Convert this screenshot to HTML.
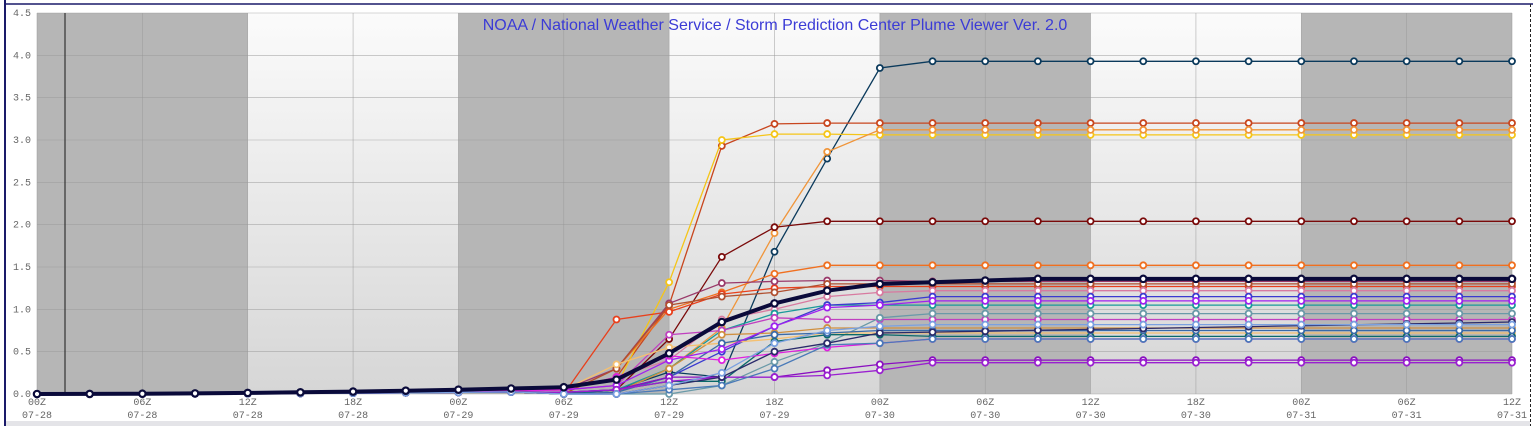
<!DOCTYPE html>
<html><head><meta charset="utf-8">
<style>
html,body{margin:0;padding:0;background:#fff;}
body{width:1533px;height:426px;overflow:hidden;position:relative;}
svg{position:absolute;left:0;top:0;}
</style></head>
<body>
<svg id="s" width="1533" height="426" xmlns="http://www.w3.org/2000/svg">
<defs>
<linearGradient id="lg" x1="0" y1="0" x2="0" y2="1">
<stop offset="0" stop-color="#fbfbfb"/><stop offset="1" stop-color="#d6d6d6"/>
</linearGradient>
</defs>
<rect x="0" y="0" width="1533" height="426" fill="#fff"/>
<line x1="5" y1="0" x2="5" y2="426" stroke="#1a1a6a" stroke-width="2"/>
<line x1="5" y1="4" x2="1533" y2="4" stroke="#1a1a6a" stroke-width="1.5"/>
<line x1="1530.5" y1="4" x2="1530.5" y2="426" stroke="#222" stroke-width="1" stroke-dasharray="3,2"/>
<rect x="6" y="421" width="1524" height="5" fill="#e4e4e8"/>
<g id="bg"></g>
<g id="grid"></g>
<g id="lines"></g>
<g id="lab" font-family="'Liberation Mono',monospace" font-size="10" fill="#666"></g>
<text x="775" y="30" text-anchor="middle" font-family="'Liberation Sans',sans-serif" font-size="16" fill="#3b3bd6">NOAA / National Weather Service / Storm Prediction Center Plume Viewer Ver. 2.0</text>
</svg>
<script>
var NS="http://www.w3.org/2000/svg";
function el(p,t,a){var e=document.createElementNS(NS,t);for(var k in a)e.setAttribute(k,a[k]);p.appendChild(e);return e;}
var X0=37,X1=1512,Y0=394,Y1=13;
function X(i){return X0+(X1-X0)*i/28;}
function Y(v){return Y0-(Y0-Y1)*v/4.5;}
var bg=document.getElementById('bg'),gr=document.getElementById('grid'),lab=document.getElementById('lab'),L=document.getElementById('lines');
for(var b=0;b<7;b++){var xa=X(b*4),xb=X(b*4+4);
 el(bg,'rect',{x:xa,y:Y1,width:xb-xa,height:Y0-Y1,fill:b%2==0?'#b6b6b6':'url(#lg)'});}
for(var k=0;k<=9;k++){var y=Y(k*0.5);el(gr,'line',{x1:X0,x2:X1,y1:y,y2:y,stroke:'#9a9a9a','stroke-width':0.6,opacity:0.8});
 var t=el(lab,'text',{x:31,y:y+3,'text-anchor':'end'});t.textContent=(k*0.5).toFixed(1);}
var hrs=['00Z','06Z','12Z','18Z'],days=['07-28','07-29','07-30','07-31'];
for(var j=0;j<=14;j++){var x=X0+(X1-X0)*j/14;el(gr,'line',{x1:x,x2:x,y1:Y1,y2:Y0,stroke:'#999','stroke-width':0.6,opacity:0.8});
 var t1=el(lab,'text',{x:x,y:405,'text-anchor':'middle'});t1.textContent=hrs[j%4];
 var t2=el(lab,'text',{x:x,y:418,'text-anchor':'middle'});t2.textContent=days[Math.floor(j/4)];}
el(gr,'line',{x1:65,x2:65,y1:Y1,y2:Y0,stroke:'#333','stroke-width':1.2});
var S=[
['#0b3a5c',[0.02,0.05,0.26,0.2,1.68,2.78,3.85],3.93],
['#c8461e',[0.05,0.2,1.05,2.93,3.19,3.2,3.2],3.2],
['#f5c518',[0.05,0.1,1.32,3.0,3.07,3.07,3.06],3.06],
['#f0953a',[0,0.02,0.3,0.78,1.9,2.86,3.12],3.12],
['#7a0a0a',[0,0.05,0.65,1.62,1.97,2.04,2.04],2.04],
['#f07020',[0,0.3,1.0,1.2,1.42,1.52,1.52],1.52],
['#e8401c',[0,0.88,0.97,1.18,1.25,1.27,1.27],1.27],
['#9a3a6a',[0.05,0.3,1.07,1.31,1.33,1.34,1.34],1.33],
['#b05030',[0,0.3,1.05,1.15,1.2,1.3,1.3],1.3],
['#d87aa0',[0.05,0.2,0.4,0.88,1.0,1.15,1.2],1.22],
['#1a9a9a',[0,0.05,0.3,0.75,0.95,1.05,1.05],1.05],
['#3a3ad0',[0,0.05,0.2,0.5,0.8,1.05,1.08],1.15],
['#c040c0',[0.05,0.1,0.7,0.75,0.9,0.88,0.88],0.88],
['#6a9aa8',[0,0,0.0,0.1,0.38,0.6,0.9],0.95],
['#d09040',[0,0.02,0.3,0.7,0.72,0.78,0.78],0.78],
['#f5c070',[0.05,0.35,0.55,0.6,0.65,0.72,0.72],0.72],
['#0a6a6a',[0,0.05,0.15,0.15,0.62,0.7,0.7],0.68],
['#3a6aa8',[0,0.02,0.2,0.6,0.7,0.72,0.75],0.75],
['#a020f0',[0.05,0.1,0.4,0.53,0.8,1.02,1.05],1.1],
['#e020e0',[0.05,0.2,0.45,0.4,0.48,0.55,0.6],0.65],
['#8a10c0',[0.02,0.05,0.2,0.2,0.2,0.28,0.35],0.4],
['#9a20d0',[0.02,0.05,0.15,0.2,0.2,0.22,0.28],0.37],
['#4a7ab8',[0,0,0.05,0.1,0.3,0.58,0.6],0.65],
['#2a2a6a',[0,0,0.1,0.2,0.5,0.6,0.72],0.85,1],
['#7aa0e0',[0,0,0.1,0.25,0.6,0.75,0.8],0.82],
['#0a0a3a',[0.08,0.17,0.48,0.85,1.07,1.22,1.3],1.36,2]
];
S.forEach(function(s){var a=s[1],f=s[2],v=[];
 for(var i=0;i<=28;i++){var val;
  if(i<10){val=Math.max(a[0],0.03)*Math.pow(i/10,2);}
  else if(i<=16){val=a[i-10];}
  else{ if(s[3]==1){val=a[6]+(f-a[6])*(i-16)/12;} else if(s[3]==2){val=a[6]+(f-a[6])*Math.min(1,0.6*(i-16)/2+0.4*(i-16)/12);} else {val=a[6]+(f-a[6])*Math.min(1,(i-16));} }
  v.push(val);}
 var mean=s[3]==2;
 var d=v.map(function(q,i){return (i?'L':'M')+X(i).toFixed(1)+','+Y(q).toFixed(1);}).join('');
 el(L,'path',{d:d,fill:'none',stroke:s[0],'stroke-width':mean?4:1.3});
 v.forEach(function(q,i){el(L,'circle',{cx:X(i),cy:Y(q),r:mean?3.2:3,fill:'#fff',stroke:s[0],'stroke-width':mean?2.2:1.8});});
});
</script>
</body></html>
